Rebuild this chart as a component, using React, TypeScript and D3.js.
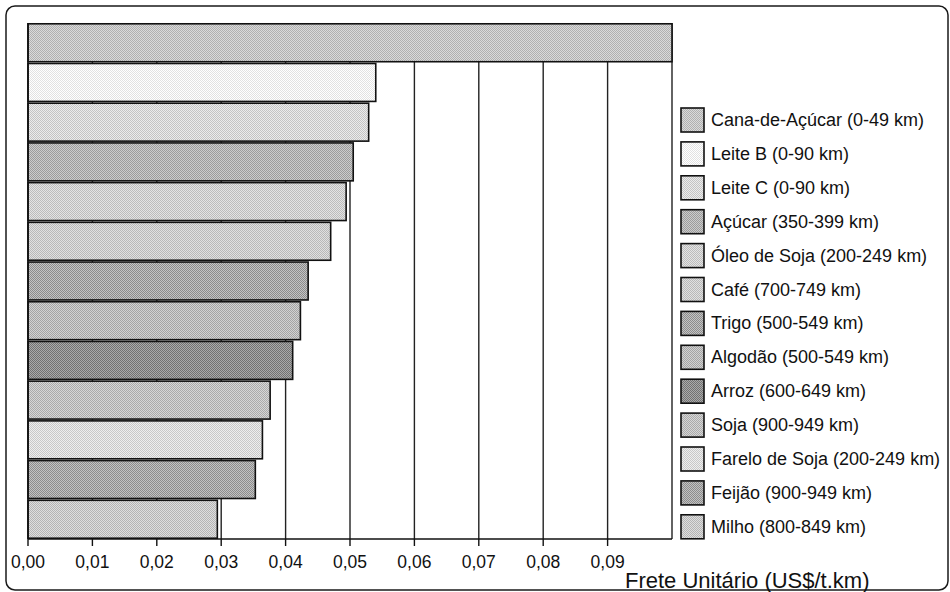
import * as d3 from "d3";

// Frete unitário por produto (US$/t.km)
const categories = [
  "Cana-de-Açúcar (0-49 km)",
  "Leite B (0-90 km)",
  "Leite C (0-90 km)",
  "Açúcar (350-399 km)",
  "Óleo de Soja (200-249 km)",
  "Café (700-749 km)",
  "Trigo (500-549 km)",
  "Algodão (500-549 km)",
  "Arroz (600-649 km)",
  "Soja (900-949 km)",
  "Farelo de Soja (200-249 km)",
  "Feijão (900-949 km)",
  "Milho (800-849 km)",
];

const values = [
  0.1, 0.054, 0.0529, 0.0505, 0.0494, 0.047, 0.0435, 0.0423, 0.0411, 0.0376,
  0.0364, 0.0353, 0.0294,
];

const tickValues = [0, 0.01, 0.02, 0.03, 0.04, 0.05, 0.06, 0.07, 0.08, 0.09];
const axisTitle = "Frete Unitário (US$/t.km)";

// halftone look: [light, dark] per product
const shades: [string, string][] = [
  ["#dadada", "#b0b0b0"],
  ["#ffffff", "#e2e2e2"],
  ["#ececec", "#c4c4c4"],
  ["#cccccc", "#9c9c9c"],
  ["#e4e4e4", "#bcbcbc"],
  ["#e0e0e0", "#b8b8b8"],
  ["#c4c4c4", "#8c8c8c"],
  ["#d2d2d2", "#a4a4a4"],
  ["#aaaaaa", "#727272"],
  ["#d6d6d6", "#aaaaaa"],
  ["#eeeeee", "#c8c8c8"],
  ["#c2c2c2", "#8c8c8c"],
  ["#dedede", "#b4b4b4"],
];

const W = 950;
const H = 592;
const FONT = "'Liberation Sans', Arial, Helvetica, sans-serif";

export default function App() {
  const x = d3.scaleLinear().domain([0, 0.1]).range([28, 672]);
  const y = d3
    .scaleBand<string>()
    .domain(categories)
    .range([23, 539])
    .paddingInner(0.045)
    .paddingOuter(0.02);

  const axisY = 539;
  const legendX = 681;
  const legendY0 = 108;
  const legendStep = 33.9;

  return (
    <svg
      width={W}
      height={H}
      style={{ position: "absolute", left: 0, top: 0, background: "#fff" }}
      fontFamily={FONT}
    >
      <defs>
        {shades.map(([light, dark], i) => (
          <pattern
            key={i}
            id={`pat${i}`}
            width={2}
            height={2}
            patternUnits="userSpaceOnUse"
          >
            <rect width={2} height={2} fill={light} />
            <rect x={0} y={0} width={1} height={1} fill={dark} />
            <rect x={1} y={1} width={1} height={1} fill={dark} />
          </pattern>
        ))}
      </defs>

      {/* outer frame */}
      <rect
        x={6}
        y={6}
        width={942}
        height={584}
        rx={9}
        fill="none"
        stroke="#1a1a1a"
        strokeWidth={1.5}
      />

      {/* gridlines */}
      {tickValues.slice(1).map((t) => (
        <line
          key={t}
          x1={x(t)}
          x2={x(t)}
          y1={23}
          y2={axisY}
          stroke="#222"
          strokeWidth={1.4}
        />
      ))}
      <line x1={x(0.1)} x2={x(0.1)} y1={23} y2={axisY} stroke="#222" strokeWidth={1.4} />

      {/* bars */}
      {categories.map((c, i) => (
        <rect
          key={c}
          x={x(0)}
          y={y(c)}
          width={x(values[i]) - x(0)}
          height={y.bandwidth()}
          fill={`url(#pat${i})`}
          stroke="#111"
          strokeWidth={1.6}
        />
      ))}

      {/* axes */}
      <line x1={x(0)} x2={x(0)} y1={23} y2={axisY} stroke="#111" strokeWidth={1.6} />
      <line x1={x(0)} x2={x(0.1)} y1={axisY} y2={axisY} stroke="#111" strokeWidth={1.6} />
      {tickValues.map((t) => (
        <g key={t} transform={`translate(${x(t)},${axisY})`}>
          <line y1={0} y2={7} stroke="#111" strokeWidth={1.4} />
          <text
            y={29}
            textAnchor="middle"
            fontSize={17.5}
            fill="#111"
          >
            {d3.format(".2f")(t).replace(".", ",")}
          </text>
        </g>
      ))}
      <text x={625} y={588} fontSize={22} fill="#111">
        {axisTitle}
      </text>

      {/* legend */}
      {categories.map((c, i) => {
        const cy = legendY0 + i * legendStep;
        return (
          <g key={c}>
            <rect
              x={legendX}
              y={cy}
              width={23}
              height={24}
              fill={`url(#pat${i})`}
              stroke="#111"
              strokeWidth={1.6}
            />
            <text
              x={711}
              y={cy + 12}
              dominantBaseline="central"
              fontSize={18}
              fill="#111"
            >
              {c}
            </text>
          </g>
        );
      })}
    </svg>
  );
}
